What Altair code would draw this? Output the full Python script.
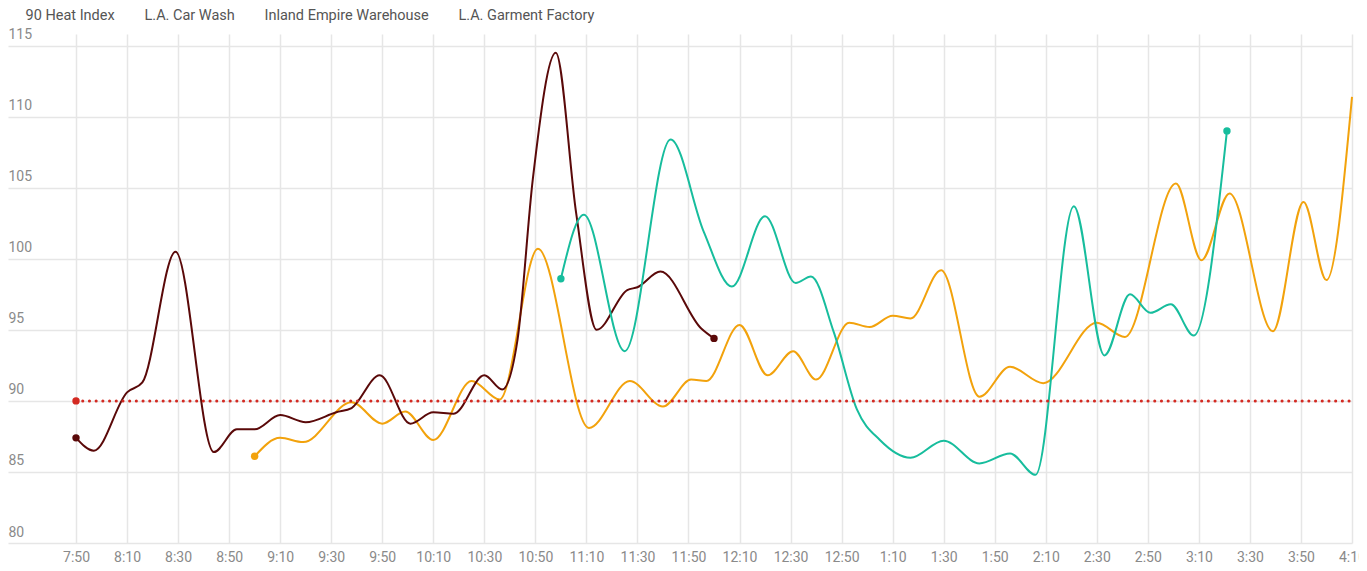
import altair as alt
import pandas as pd

SERIES = ["90 Heat Index", "L.A. Car Wash", "Inland Empire Warehouse", "L.A. Garment Factory"]
COLORS = ["#d42a22", "#5a0909", "#f2a20c", "#17bd9d"]

heat_times = ["7:50", "16:10"]
heat_values = [90, 90]

carwash_times = ["7:50", "7:57", "8:10", "8:16", "8:29", "8:44", "8:53", "9:00", "9:10", "9:20",
                 "9:32", "9:38", "9:49", "10:01", "10:10", "10:18", "10:30", "10:37", "10:43",
                 "10:49", "10:58", "11:06", "11:14", "11:26", "11:30", "11:39", "11:55", "12:00"]
carwash_values = [87.4, 86.5, 90.6, 91.3, 100.5, 86.4, 88.0, 88.0, 89.0, 88.5,
                  89.2, 89.5, 91.8, 88.4, 89.2, 89.1, 91.8, 90.8, 94.3,
                  105.6, 114.5, 103.2, 95.0, 97.8, 98.0, 99.1, 95.1, 94.4]

inland_times = ["9:00", "9:10", "9:19", "9:38", "9:50", "9:59", "10:10", "10:25", "10:36", "10:51",
                "11:11", "11:27", "11:40", "11:51", "11:57", "12:10", "12:21", "12:31", "12:40",
                "12:53", "13:01", "13:10", "13:17", "13:29", "13:44", "13:56", "14:09", "14:30",
                "14:41", "15:01", "15:11", "15:22", "15:39", "15:51", "16:00", "16:10"]
inland_values = [86.1, 87.4, 87.1, 89.9, 88.4, 89.25, 87.25, 91.4, 90.1, 100.7,
                 88.1, 91.4, 89.6, 91.5, 91.4, 95.35, 91.8, 93.5, 91.5,
                 95.5, 95.2, 96.0, 95.8, 99.2, 90.3, 92.4, 91.25, 95.5,
                 94.5, 105.3, 99.9, 104.6, 94.9, 104.0, 98.5, 111.4]

garment_times = ["11:00", "11:09", "11:25", "11:43", "11:56", "12:07", "12:20", "12:32", "12:38",
                 "12:47", "12:56", "13:05", "13:17", "13:30", "13:44", "13:56", "14:06", "14:21",
                 "14:33", "14:43", "14:51", "14:59", "15:08", "15:21"]
garment_values = [98.6, 103.1, 93.5, 108.4, 101.9, 98.05, 103.0, 98.3, 98.75,
                  94.8, 89.4, 87.25, 86.0, 87.2, 85.6, 86.3, 84.8, 103.7,
                  93.2, 97.5, 96.2, 96.8, 94.6, 109.0]

tick_times = ["7:50", "8:10", "8:30", "8:50", "9:10", "9:30", "9:50", "10:10", "10:30", "10:50",
              "11:10", "11:30", "11:50", "12:10", "12:30", "12:50", "13:10", "13:30", "13:50",
              "14:10", "14:30", "14:50", "15:10", "15:30", "15:50", "16:10"]
y_ticks = [80, 85, 90, 95, 100, 105, 110, 115]


def iso(t):
    h, m = t.split(":")
    return f"2024-01-01T{int(h):02d}:{m}:00"


def dt(t, s=0):
    h, m = t.split(":")
    return alt.DateTime(year=2024, month=1, date=1, hours=int(h), minutes=int(m), seconds=s)


def frame(name, times, values):
    return pd.DataFrame({"series": name, "time": [iso(t) for t in times], "value": values})


heat = frame(SERIES[0], heat_times, heat_values)
carwash = frame(SERIES[1], carwash_times, carwash_values)
inland = frame(SERIES[2], inland_times, inland_values)
garment = frame(SERIES[3], garment_times, garment_values)

lines = pd.concat([inland, carwash, garment], ignore_index=True)
dots = pd.concat([
    heat.iloc[[0]],
    carwash.iloc[[0, -1]],
    inland.iloc[[0]],
    garment.iloc[[0, -1]],
], ignore_index=True)

x_enc = alt.X(
    "time:T",
    scale=alt.Scale(domain=[dt("7:23", 21), dt("16:10")]),
    axis=alt.Axis(values=[dt(t) for t in tick_times], format="%-I:%M", title=None,
                  ticks=False, domain=False, labelFlush=False, labelOverlap=False,
                  labelPadding=7, labelFont="Roboto", labelFontSize=14, labelColor="#8a8a8a",
                  gridColor="#e6e6e6", gridWidth=1.5),
)
y_enc = alt.Y(
    "value:Q",
    scale=alt.Scale(domain=[80, 115.82], nice=False, zero=False),
    axis=alt.Axis(values=y_ticks, title=None, ticks=False, tickSize=0, domain=False,
                  labelAlign="left", labelBaseline="bottom", labelOffset=-4, labelPadding=0,
                  labelFont="Roboto", labelFontSize=14, labelColor="#8a8a8a",
                  gridColor="#e6e6e6", gridWidth=1.5),
)
color_enc = alt.Color(
    "series:N",
    scale=alt.Scale(domain=SERIES, range=COLORS),
    legend=alt.Legend(orient="none", legendX=-1, legendY=-25, direction="horizontal",
                      title=None, symbolOpacity=0, symbolStrokeWidth=0, symbolSize=64,
                      labelOffset=4, columnPadding=11, labelFont="Roboto", labelLimit=400,
                      labelFontSize=14.5, labelColor="#555555"),
)

line_layer = alt.Chart(lines).mark_line(interpolate="monotone", strokeWidth=2).encode(
    x=x_enc, y=y_enc, color=color_enc, detail="series:N"
)
heat_layer = alt.Chart(heat).mark_line(strokeWidth=3, strokeDash=[0.1, 6.6], strokeCap="round").encode(
    x=x_enc, y=y_enc, color=color_enc
)
dot_layer = alt.Chart(dots).mark_point(filled=True, size=55, opacity=1).encode(
    x=x_enc, y=y_enc, color=color_enc
)

chart = alt.layer(line_layer, heat_layer, dot_layer).properties(
    width=1344,
    height=509,
    autosize=alt.AutoSizeParams(type="none"),
    padding={"left": 0, "top": 26, "right": 7, "bottom": 20},
).configure_view(stroke=None)

chart.save("out.html", embed_options={"renderer": "svg", "actions": False})
